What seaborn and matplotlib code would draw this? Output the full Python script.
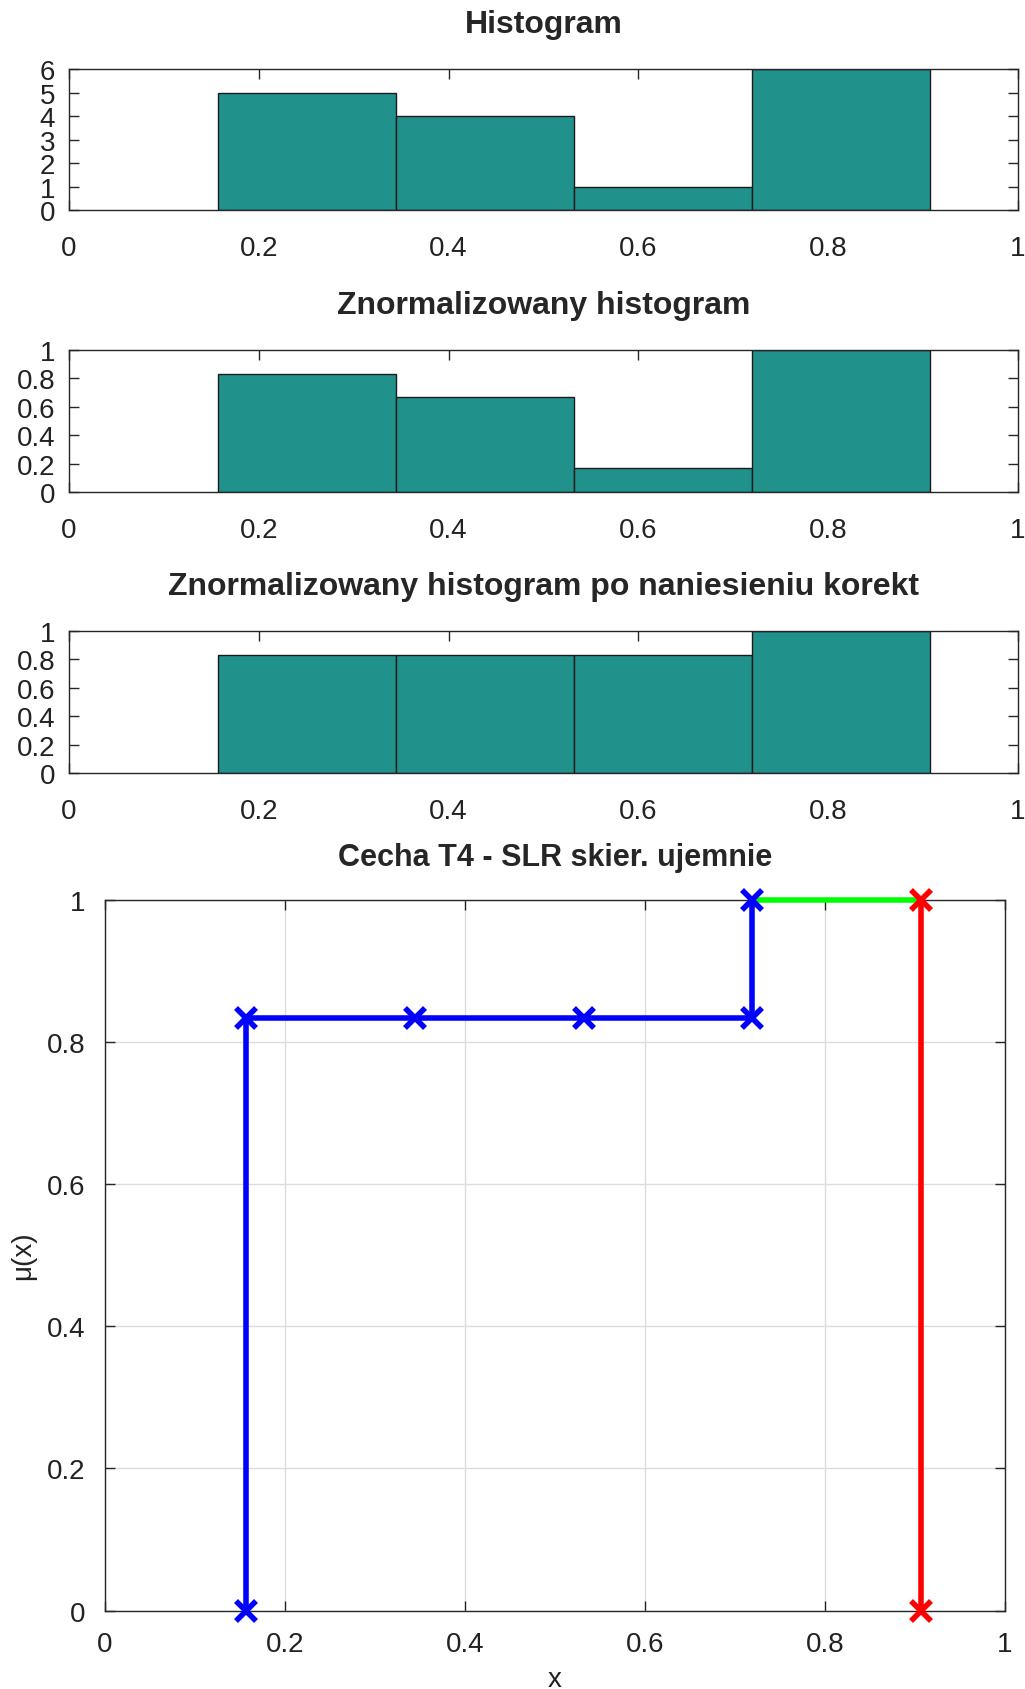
import numpy as np
import seaborn as sns
import matplotlib.pyplot as plt
from matplotlib.ticker import FuncFormatter

# histogram data (bin edges shared by all three)
bin_edges = [0.157, 0.3445, 0.532, 0.7195, 0.907]
counts = [5, 4, 1, 6]
norm_counts = [0.833, 0.667, 0.167, 1.0]
corrected_counts = [0.833, 0.833, 0.833, 1.0]

# membership function pieces
blue_x = [0.157, 0.157, 0.3445, 0.532, 0.7195, 0.7195]
blue_y = [0, 0.833, 0.833, 0.833, 0.833, 1.0]
green_x = [0.7195, 0.907]
green_y = [1.0, 1.0]
red_x = [0.907, 0.907]
red_y = [1.0, 0]

titles = ['Histogram', 'Znormalizowany histogram',
          'Znormalizowany histogram po naniesieniu korekt']

sns.set_style("ticks")
plt.rcParams['font.family'] = ['Liberation Sans', 'DejaVu Sans']

bar_color = '#21918c'
spine_c = '#262626'
fmt = FuncFormatter(lambda v, p: '%g' % round(v, 3))

fig = plt.figure(figsize=(10.25, 16.9), dpi=100)
hist_boxes = [[0.0673, 0.8751, 0.9259, 0.0834],
              [0.0673, 0.7083, 0.9259, 0.0840],
              [0.0673, 0.5420, 0.9259, 0.0840]]
series = [counts, norm_counts, corrected_counts]
centers = [(bin_edges[i] + bin_edges[i + 1]) / 2 for i in range(len(counts))]

for box, vals, title in zip(hist_boxes, series, titles):
    ax = fig.add_axes(box)
    sns.histplot(x=centers, weights=vals, bins=bin_edges, ax=ax,
                 color=bar_color, alpha=1, edgecolor='#1a1a1a', linewidth=1)
    top = max(vals)
    ax.set_xlim(0, 1)
    ax.set_ylim(0, top)
    ax.set_xticks(np.arange(0, 1.01, 0.2))
    if top > 1:
        ax.set_yticks(range(0, 7))
    else:
        ax.set_yticks(np.arange(0, 1.01, 0.2))
    ax.xaxis.set_major_formatter(fmt)
    ax.yaxis.set_major_formatter(fmt)
    ax.set_xlabel('')
    ax.set_ylabel('')
    ax.set_title(title, fontsize=23, fontweight='bold', pad=27)
    ax.tick_params(direction='in', top=True, right=True, length=7,
                   width=1, colors=spine_c, labelsize=20, labelcolor='#222222')
    ax.tick_params(axis='x', pad=18)
    ax.tick_params(axis='y', pad=10)
    for s in ax.spines.values():
        s.set_visible(True)
        s.set_color(spine_c)
        s.set_linewidth(1)

# membership function plot
ax = fig.add_axes([0.1024, 0.0464, 0.8780, 0.4207])
ax.grid(True, color='#dcdcdc', linewidth=1)
ax.set_axisbelow(True)
kw = dict(ax=ax, sort=False, estimator=None, linewidth=4, marker='x',
          markersize=15, markeredgewidth=4, legend=False, clip_on=False,
          zorder=5)
sns.lineplot(x=green_x, y=green_y, color='#00ff00', clip_on=False, zorder=5,
             ax=ax, sort=False, estimator=None, linewidth=4, legend=False)
sns.lineplot(x=blue_x, y=blue_y, color='#0000ff', markeredgecolor='#0000ff', **kw)
sns.lineplot(x=red_x, y=red_y, color='#ff0000', markeredgecolor='#ff0000', **kw)
ax.set_xlim(0, 1)
ax.set_ylim(0, 1)
ax.set_xticks(np.arange(0, 1.01, 0.2))
ax.set_yticks(np.arange(0, 1.01, 0.2))
ax.xaxis.set_major_formatter(fmt)
ax.yaxis.set_major_formatter(fmt)
ax.set_title('Cecha T4 - SLR skier. ujemnie', fontsize=22, fontweight='bold', pad=25)
ax.set_xlabel('x', fontsize=20, color='#222222', labelpad=6)
ax.set_ylabel('μ(x)', fontsize=20, color='#222222', labelpad=8)
ax.tick_params(direction='in', top=True, right=True, length=7,
               width=1, colors=spine_c, labelsize=20, labelcolor='#222222')
ax.tick_params(axis='x', pad=15)
ax.tick_params(axis='y', pad=14)
for s in ax.spines.values():
    s.set_visible(True)
    s.set_color(spine_c)
    s.set_linewidth(1)

fig.savefig('out.png', dpi=100)
